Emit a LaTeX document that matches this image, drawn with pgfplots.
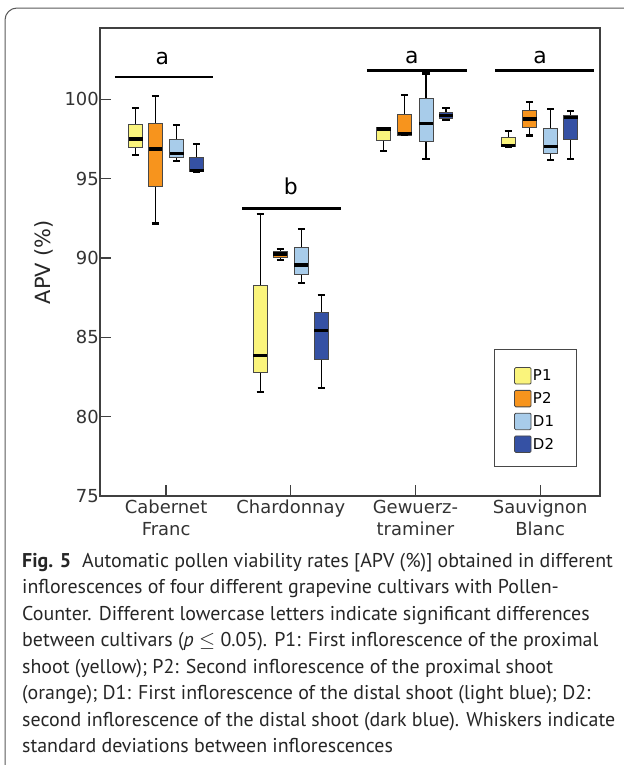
\documentclass[border=0pt]{standalone}
\usepackage{fontspec}
\setmainfont{DejaVu Sans}
\newfontfamily\capfont{PT Sans}
\usepackage{pgfplots}
\pgfplotsset{compat=1.18}
\definecolor{p1}{HTML}{FAF47C}
\definecolor{p2}{HTML}{F7941D}
\definecolor{d1}{HTML}{A8CCEA}
\definecolor{d2}{HTML}{3551A4}
\definecolor{edge}{HTML}{484848}
\definecolor{axc}{HTML}{404040}
% box: #1 position, #2 colour, #3 lower whisker, #4 lower quartile, #5 median, #6 upper quartile, #7 upper whisker
\newcommand\bx[7]{%
  \pgfmathsetmacro\bxL{#1-0.056}\pgfmathsetmacro\bxR{#1+0.056}%
  \pgfmathsetmacro\capL{#1-0.029}\pgfmathsetmacro\capR{#1+0.029}%
  \edef\bxtmp{%
    \noexpand\addplot[black, line width=1.2bp, forget plot] coordinates {(#1,#3) (#1,#4)};
    \noexpand\addplot[black, line width=1.2bp, forget plot] coordinates {(#1,#6) (#1,#7)};
    \noexpand\addplot[fill=#2, draw=edge, line width=1bp, forget plot] coordinates {(\bxL,#4) (\bxR,#4) (\bxR,#6) (\bxL,#6)} --cycle;
    \noexpand\addplot[black, line width=3.2bp, forget plot] coordinates {(\bxL,#5) (\bxR,#5)};
    \noexpand\addplot[black, line width=2.2bp, forget plot] coordinates {(\capL,#3) (\capR,#3)};
    \noexpand\addplot[black, line width=2.2bp, forget plot] coordinates {(\capL,#7) (\capR,#7)};
  }\bxtmp}
\begin{document}
\begin{tikzpicture}
\useasboundingbox (0,0) rectangle (624bp,-765bp);
\draw[gray!70!black, line width=1bp] (5bp,-770bp) -- (5bp,-20bp) arc[start angle=180, end angle=90, radius=12bp] -- (630bp,-8bp);
\begin{axis}[at={(100bp,-496bp)}, anchor=south west, scale only axis,
  width=500bp, height=468bp,
  xmin=-0.53, xmax=3.48, ymin=75, ymax=104.5,
  xtick={0,1,2,3},
  xticklabels={{Cabernet\\Franc},Chardonnay,{Gewuerz-\\traminer},{Sauvignon\\Blanc}},
  ytick={75,80,85,90,95,100},
  tick align=inside, xtick pos=bottom, ytick pos=left,
  major tick length=11bp,
  axis line style={line width=1.3bp, draw=axc},
  tick style={line width=1.3bp, draw=axc},
  /pgf/number format/assume math mode=true,
  ticklabel style={font=\fontsize{18}{22}\selectfont, text=black!80},
  xticklabel style={align=center, inner sep=0pt, yshift=-4bp},
  yticklabel style={inner sep=1bp},
  legend image code/.code={\draw[#1, line width=0.8bp, rounded corners=1.2bp] (0bp,-8bp) rectangle (16.5bp,8.5bp);},
  legend style={draw=none, fill=none, at={(rel axis cs:0.822,0.280)}, anchor=north west,
     font=\fontsize{15}{18}\selectfont, row sep=5.5bp, nodes={inner sep=1.5bp}},
  legend cell align=left,
  clip=false,
]
% Cabernet Franc
\bx{-0.245}{p1}{96.49}{96.97}{97.50}{98.44}{99.47}
\bx{-0.085}{p2}{92.18}{94.53}{96.87}{98.49}{100.19}
\bx{0.085}{d1}{96.13}{96.34}{96.57}{97.48}{98.38}
\bx{0.245}{d2}{95.44}{95.44}{95.52}{96.36}{97.18}
% Chardonnay
\bx{0.755}{p1}{81.57}{82.77}{83.88}{88.30}{92.77}
\bx{0.915}{p2}{89.87}{90.04}{90.25}{90.44}{90.56}
\bx{1.085}{d1}{88.44}{88.97}{89.56}{90.67}{91.82}
\bx{1.245}{d2}{81.79}{83.61}{85.44}{86.55}{87.67}
% Gewuerztraminer
\bx{1.745}{p1}{96.74}{97.39}{98.13}{98.21}{98.21}
\bx{1.915}{p2}{97.75}{97.75}{97.83}{99.03}{100.27}
\bx{2.085}{d1}{96.22}{97.37}{98.50}{100.03}{101.63}
\bx{2.245}{d2}{98.69}{98.77}{98.96}{99.15}{99.47}
% Sauvignon Blanc
\bx{2.745}{p1}{97.01}{97.01}{97.10}{97.58}{98.02}
\bx{2.915}{p2}{97.73}{98.23}{98.76}{99.30}{99.85}
\bx{3.085}{d1}{96.17}{96.59}{97.01}{98.19}{99.39}
\bx{3.245}{d2}{96.22}{97.50}{98.86}{98.99}{99.26}
% significance bars
\addplot[black, line width=2.6bp, forget plot] coordinates {(-0.41,101.40) (0.377,101.40)};
\addplot[black, line width=2.6bp, forget plot] coordinates {(0.61,93.13) (1.40,93.13)};
\addplot[black, line width=2.6bp, forget plot] coordinates {(1.61,101.82) (2.41,101.82)};
\addplot[black, line width=2.6bp, forget plot] coordinates {(2.64,101.82) (3.43,101.82)};
\node[anchor=base, font=\fontsize{22}{26}\selectfont] at (axis cs:-0.03,102.17) {a};
\node[anchor=base, font=\fontsize{22}{26}\selectfont] at (axis cs:1.0,93.98) {b};
\node[anchor=base, font=\fontsize{22}{26}\selectfont] at (axis cs:1.97,102.28) {a};
\node[anchor=base, font=\fontsize{22}{26}\selectfont] at (axis cs:3.0,102.28) {a};
% legend
\draw[edge, line width=1bp] (rel axis cs:0.788,0.064) rectangle (rel axis cs:0.952,0.312);
\addlegendimage{fill=p1, draw=edge}\addlegendentry{P1}
\addlegendimage{fill=p2, draw=edge}\addlegendentry{P2}
\addlegendimage{fill=d1, draw=edge}\addlegendentry{D1}
\addlegendimage{fill=d2, draw=edge}\addlegendentry{D2}
\end{axis}
\node[rotate=90, font=\fontsize{21}{25}\selectfont, text=black!85] at (44bp,-262bp) {APV (\%)};
\begin{scope}[every node/.style={anchor=base west, inner sep=0pt, font=\capfont\fontsize{20}{26}\selectfont, text=black!85}]
\node at (22bp,-567bp) {\textbf{Fig. 5}\hspace{0.55em}Automatic pollen viability rates [APV (\%)] obtained in different};
\node at (22bp,-593.5bp) {inflorescences of four different grapevine cultivars with Pollen-};
\node at (22bp,-620bp) {Counter. Different lowercase letters indicate significant differences};
\node at (22bp,-646.5bp) {between cultivars (\textit{p} $\leq$ 0.05). P1: First inflorescence of the proximal};
\node at (22bp,-673bp) {shoot (yellow); P2: Second inflorescence of the proximal shoot};
\node at (22bp,-699.5bp) {(orange); D1: First inflorescence of the distal shoot (light blue); D2:};
\node at (22bp,-726bp) {second inflorescence of the distal shoot (dark blue). Whiskers indicate};
\node at (22bp,-752.5bp) {standard deviations between inflorescences};
\end{scope}
\end{tikzpicture}
\end{document}
